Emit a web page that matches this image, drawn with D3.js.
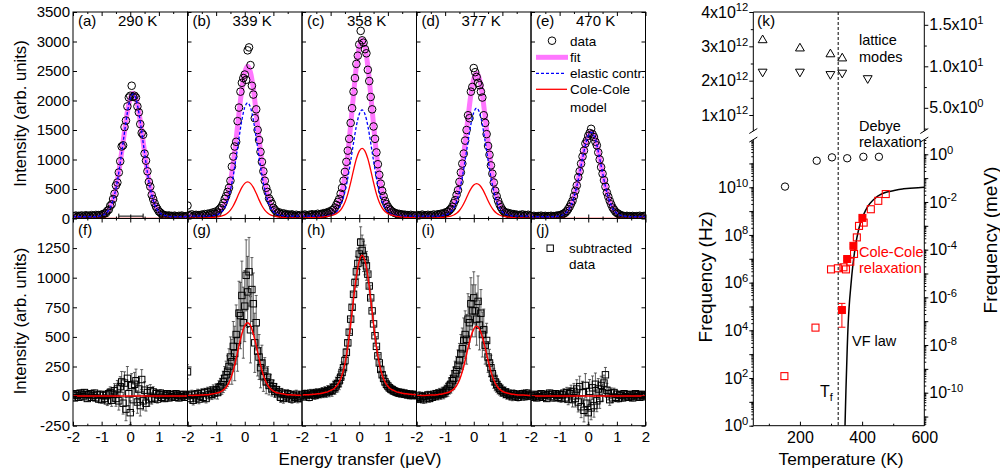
<!DOCTYPE html>
<html>
<head>
<meta charset="utf-8">
<script src="https://cdn.jsdelivr.net/npm/d3@7/dist/d3.min.js"></script>
<style>
  body { margin: 0; background: #fff; }
  svg { font-family: "Liberation Sans", Arial, Helvetica, sans-serif; }
</style>
</head>
<body>
<svg id="chart" width="1000" height="474"></svg>
<script>
// ---------- values ----------
const energyGrid = [-2, -1.9, -1.8, -1.7, -1.6, -1.5, -1.4, -1.3, -1.2, -1.1, -1, -0.9, -0.8, -0.7, -0.6, -0.5, -0.4, -0.3, -0.2, -0.1, 0,
  0.1, 0.2, 0.3, 0.4, 0.5, 0.6, 0.7, 0.8, 0.9, 1, 1.1, 1.2, 1.3, 1.4, 1.5, 1.6, 1.7, 1.8, 1.9, 2];
const energyData = [-2, -1.95, -1.9, -1.85, -1.8, -1.75, -1.7, -1.65, -1.6, -1.55, -1.5, -1.45, -1.4, -1.35, -1.3, -1.25, -1.2, -1.15, -1.1, -1.05,
  -1, -0.95, -0.9, -0.85, -0.8, -0.75, -0.7, -0.65, -0.6, -0.55, -0.5, -0.45, -0.4, -0.35, -0.3, -0.25, -0.2, -0.15, -0.1, -0.05,
  0, 0.05, 0.1, 0.15, 0.2, 0.25, 0.3, 0.35, 0.4, 0.45, 0.5, 0.55, 0.6, 0.65, 0.7, 0.75, 0.8, 0.85, 0.9, 0.95,
  1, 1.05, 1.1, 1.15, 1.2, 1.25, 1.3, 1.35, 1.4, 1.45, 1.5, 1.55, 1.6, 1.65, 1.7, 1.75, 1.8, 1.85, 1.9, 1.95, 2];

const topLetters = ['(a)', '(b)', '(c)', '(d)', '(e)'];
const temperatures = ['290 K', '339 K', '358 K', '377 K', '470 K'];
const bottomLetters = ['(f)', '(g)', '(h)', '(i)', '(j)'];

// measured spectra (top row)
const dataA = [42, 35, 50, 28, 45, 38, 52, 30, 41, 55, 36, 48, 33, 57, 44, 39, 60, 47, 58, 49,
  66, 71, 85, 92, 130, 150, 215, 240, 330, 420, 560, 610, 780, 970, 1220, 1240, 1550, 1660, 1900, 2050,
  2080, 2250, 2060, 2080, 2050, 1900, 1800, 1600, 1450, 1420, 1100, 980, 800, 620, 540, 400, 330, 260, 200, 160,
  120, 100, 78, 62, 55, 48, 40, 52, 35, 44, 30, 48, 38, 29, 45, 33, 50, 36, 27, 41, 35];
const dataB = [220, 60, 45, 70, 38, 55, 62, 40, 58, 47, 66, 52, 75, 44, 80, 63, 90, 72, 105, 85,
  120, 98, 150, 175, 210, 260, 330, 380, 450, 520, 640, 880, 1050, 1220, 1300, 1650, 1880, 2150, 2300, 2380,
  2440, 2350, 2850, 2900, 2600, 2250, 2100, 1700, 1850, 1500, 1330, 1130, 960, 800, 640, 520, 450, 340, 300, 250,
  180, 150, 120, 95, 105, 80, 72, 88, 60, 75, 52, 66, 48, 70, 55, 42, 63, 50, 45, 58, 40];
const dataC = [60, 45, 68, 52, 40, 63, 55, 72, 48, 66, 58, 80, 62, 75, 70, 90, 78, 100, 95, 118,
  110, 140, 150, 185, 230, 280, 330, 420, 520, 640, 790, 960, 1150, 1350, 1620, 1870, 2150, 2380, 2620, 2760,
  2950, 3180, 3020, 2980, 2870, 2800, 2520, 2330, 2060, 1850, 1560, 1350, 1120, 920, 740, 590, 470, 380, 300, 245,
  200, 165, 140, 118, 104, 92, 86, 70, 78, 62, 70, 55, 64, 50, 58, 45, 62, 48, 55, 42, 50];
const dataD = [45, 58, 40, 52, 66, 43, 55, 48, 62, 40, 57, 50, 68, 46, 60, 72, 55, 80, 70, 92,
  85, 110, 118, 140, 165, 200, 260, 310, 400, 480, 620, 780, 930, 1100, 1320, 1500, 1750, 1700, 2150, 2230,
  2550, 2480, 2400, 2300, 2260, 2150, 2050, 1750, 1620, 1430, 1230, 1080, 900, 760, 610, 470, 380, 300, 240, 190,
  150, 120, 105, 88, 95, 70, 82, 60, 74, 55, 66, 48, 60, 52, 70, 45, 58, 50, 63, 44, 55];
const dataE = [40, 30, 45, 36, 28, 42, 33, 48, 31, 39, 44, 27, 40, 35, 46, 32, 41, 38, 50, 43,
  55, 60, 72, 85, 100, 125, 160, 200, 250, 300, 380, 470, 560, 700, 800, 930, 1050, 1150, 1270, 1320,
  1400, 1450, 1520, 1430, 1380, 1300, 1240, 1120, 1000, 870, 760, 650, 540, 440, 370, 300, 240, 185, 150, 115,
  95, 80, 65, 50, 48, 42, 37, 45, 33, 40, 30, 43, 35, 28, 41, 34, 46, 30, 38, 44, 36];

// fits (on energyGrid)
const fitA = [35, 35, 35, 35, 35, 35, 35, 35, 36, 45, 56, 78, 120, 195, 322, 520, 792, 1125, 1478, 1810, 2040,
  2122, 2040, 1810, 1478, 1125, 792, 520, 322, 195, 120, 78, 56, 45, 36, 35, 35, 35, 35, 35, 35];
const fitB = [45, 46, 46, 47, 48, 49, 51, 52, 56, 69, 84, 109, 160, 246, 392, 625, 948, 1354, 1793, 2199, 2478,
  2580, 2478, 2199, 1793, 1354, 948, 625, 392, 246, 160, 109, 84, 69, 56, 52, 51, 49, 48, 47, 46];
const fitC = [50, 51, 52, 53, 55, 58, 60, 64, 70, 85, 106, 136, 195, 294, 462, 728, 1105, 1583, 2103, 2582, 2910,
  3030, 2910, 2582, 2103, 1583, 1105, 728, 462, 294, 195, 136, 106, 85, 70, 64, 60, 58, 55, 53, 52];
const fitD = [45, 45, 46, 46, 48, 49, 50, 52, 55, 67, 82, 107, 154, 236, 376, 597, 906, 1293, 1710, 2098, 2363,
  2460, 2363, 2098, 1710, 1293, 906, 597, 376, 236, 154, 107, 82, 67, 55, 52, 50, 49, 48, 46, 46];
const fitE = [35, 35, 35, 35, 35, 35, 35, 35, 35, 42, 49, 64, 92, 142, 228, 364, 550, 779, 1022, 1251, 1408,
  1465, 1408, 1251, 1022, 779, 550, 364, 228, 142, 92, 64, 49, 42, 35, 35, 35, 35, 35, 35, 35];

const elasticA = [30, 30, 30, 30, 30, 30, 30, 30, 30, 40, 51, 72, 113, 186, 311, 508, 779, 1112, 1465, 1798, 2027,
  2110, 2027, 1798, 1465, 1112, 779, 508, 311, 186, 113, 72, 51, 40, 30, 30, 30, 30, 30, 30, 30];
const elasticB = [40, 40, 40, 40, 40, 40, 40, 40, 40, 50, 59, 78, 117, 184, 299, 482, 731, 1038, 1365, 1672, 1883,
  1960, 1883, 1672, 1365, 1038, 731, 482, 299, 184, 117, 78, 59, 50, 40, 40, 40, 40, 40, 40, 40];
const elasticC = [40, 40, 40, 40, 40, 40, 40, 40, 40, 49, 58, 76, 112, 175, 283, 454, 688, 976, 1282, 1570, 1768,
  1840, 1768, 1570, 1282, 976, 688, 454, 283, 175, 112, 76, 58, 49, 40, 40, 40, 40, 40, 40, 40];
const elasticD = [40, 40, 40, 40, 40, 40, 40, 40, 40, 49, 58, 77, 113, 177, 287, 461, 699, 992, 1303, 1596, 1797,
  1870, 1797, 1596, 1303, 992, 699, 461, 287, 177, 113, 77, 58, 49, 40, 40, 40, 40, 40, 40, 40];
const elasticE = [30, 30, 30, 30, 30, 30, 30, 30, 30, 37, 44, 59, 87, 137, 223, 359, 545, 774, 1017, 1246, 1403,
  1460, 1403, 1246, 1017, 774, 545, 359, 223, 137, 87, 59, 44, 37, 30, 30, 30, 30, 30, 30, 30];

const coleA = [0, 0, 0, 0, 0, 0, 0, 0, 0, 0, 0, 0, 0, 0, 0, 0, 0, 0, 0, 0, 0,
  0, 0, 0, 0, 0, 0, 0, 0, 0, 0, 0, 0, 0, 0, 0, 0, 0, 0, 0, 0];
const coleB = [5, 6, 6, 7, 8, 9, 11, 12, 16, 19, 25, 31, 43, 62, 93, 143, 217, 316, 428, 527, 595,
  620, 595, 527, 428, 316, 217, 143, 93, 62, 43, 31, 25, 19, 16, 12, 11, 9, 8, 7, 6];
const coleC = [10, 11, 12, 13, 15, 18, 20, 24, 30, 36, 48, 60, 83, 119, 179, 274, 417, 607, 821, 1012, 1142,
  1190, 1142, 1012, 821, 607, 417, 274, 179, 119, 83, 60, 48, 36, 30, 24, 20, 18, 15, 13, 12];
const coleD = [5, 5, 6, 6, 8, 9, 10, 12, 15, 18, 24, 30, 41, 59, 89, 136, 207, 301, 407, 502, 566,
  590, 566, 502, 407, 301, 207, 136, 89, 59, 41, 30, 24, 18, 15, 12, 10, 9, 8, 6, 6];
const coleE = [0, 0, 0, 0, 0, 0, 0, 0, 0, 0, 0, 0, 0, 0, 0, 0, 0, 0, 0, 0, 0,
  0, 0, 0, 0, 0, 0, 0, 0, 0, 0, 0, 0, 0, 0, 0, 0, 0, 0, 0, 0];

// resolution bar drawn in panel (a)
const resolutionBar = [-0.4, 0.45];
const resolutionLevel = 40;

// subtracted data (bottom row) and their error bars
const subF = [10, -15, 20, 5, -10, 25, 15, -5, 30, 10, -20, 15, 20, -10, 5, 25, -15, 10, -25, 15,
  -30, 5, -20, 10, -40, 20, 30, -35, 15, 45, -20, 60, -40, 80, 120, -60, 110, -110, 150, 20,
  -140, 90, -30, 100, 130, -50, 60, -80, 140, -40, 50, -60, 30, -30, 45, -20, 35, -15, 20, -25,
  10, 25, -10, 15, -20, 5, 20, -15, 10, -5, 15, -10, 20, 5, -15, 10, -5, 15, -10, 5, 10];
const subG = [205, 5, -20, 15, -35, 10, -15, 20, -25, 0, 25, -10, 30, -20, 35, 10, 40, 15, 50, 25,
  55, 30, 70, 80, 95, 120, 150, 180, 210, 250, 330, 290, 420, 360, 520, 470, 700, 680, 850, 620,
  760, 1020, 880, 1050, 560, 900, 780, 450, 620, 380, 330, 240, 280, 170, 210, 120, 160, 90, 110, 60,
  80, 40, 55, 20, 35, -10, 25, -20, 15, -5, 20, -15, 10, -25, 5, -10, 15, -20, 0, -15, 10];
const subH = [10, -5, 20, 5, 15, -10, 25, 10, 20, 5, 30, 15, 25, 20, 35, 25, 40, 30, 45, 40,
  55, 50, 70, 75, 95, 105, 130, 160, 200, 240, 300, 370, 450, 540, 650, 750, 860, 960, 1050, 1120,
  1200, 1300, 1230, 1180, 1150, 1100, 1030, 930, 830, 720, 610, 510, 420, 340, 280, 225, 180, 150, 120, 100,
  85, 70, 60, 55, 45, 40, 35, 30, 25, 30, 20, 25, 15, 20, 10, 15, 5, 15, 10, 5, 10];
const subI = [-10, -25, 5, -20, -5, -30, 0, -15, 10, -20, 5, -10, 15, 0, 20, 5, 25, 15, 30, 25,
  40, 50, 60, 85, 100, 130, 150, 190, 220, 260, 300, 360, 400, 470, 520, 480, 650, 620, 780, 720,
  830, 720, 650, 800, 600, 700, 520, 560, 430, 470, 330, 280, 240, 190, 150, 120, 100, 80, 65, 50,
  45, 30, 35, 15, 25, 5, 15, -5, 20, 0, 10, -10, 15, 5, 20, -5, 10, 25, 0, 15, 5];
const subJ = [5, -10, 15, 0, -15, 10, -5, 20, -10, 5, 15, -20, 10, 25, -5, 15, -15, 20, 5, -10,
  15, -20, 10, 25, -15, 30, -25, 20, 35, -30, 40, -20, 60, -50, 80, -90, 30, -120, 90, -60,
  -140, 40, -100, 70, -80, 100, -40, 60, -20, 90, 30, 110, 180, 50, 20, -30, 25, -15, 30, -10,
  15, -20, 10, 5, -15, 20, -5, 10, -10, 15, 0, -15, 10, 20, -5, 10, -10, 15, 5, -5, 10];

const errF = [25, 24, 26, 25, 25, 27, 24, 25, 26, 25, 25, 26, 24, 25, 27, 26, 25, 27, 28, 28,
  30, 32, 34, 36, 40, 44, 48, 52, 56, 60, 66, 72, 78, 84, 88, 92, 95, 98, 100, 100,
  100, 100, 100, 100, 98, 95, 92, 88, 84, 78, 72, 66, 60, 56, 52, 48, 44, 40, 36, 34, 32, 30,
  28, 27, 27, 26, 26, 25, 25, 26, 25, 24, 25, 25, 26, 25, 24, 25, 25, 24, 25];
const errG = [60, 35, 38, 35, 40, 36, 35, 38, 40, 35, 37, 40, 36, 38, 40, 42, 40, 44, 45, 48,
  50, 55, 60, 70, 80, 90, 100, 115, 130, 150, 170, 190, 210, 230, 250, 260, 270, 280, 290, 300,
  300, 300, 300, 290, 280, 270, 260, 250, 230, 210, 190, 170, 150, 130, 115, 100, 90, 80, 70, 60, 55, 50,
  48, 45, 44, 42, 40, 40, 38, 38, 36, 36, 35, 35, 36, 35, 35, 37, 35, 35, 36];
const errH = [30, 30, 31, 30, 31, 30, 32, 31, 32, 33, 33, 34, 35, 36, 37, 38, 40, 42, 44, 46,
  48, 52, 56, 60, 65, 70, 76, 82, 88, 94, 100, 106, 112, 118, 122, 126, 128, 130, 130, 130,
  130, 130, 130, 128, 126, 122, 118, 112, 106, 100, 94, 88, 82, 76, 70, 65, 60, 56, 52, 48, 45, 42,
  40, 38, 37, 36, 35, 34, 33, 33, 32, 32, 31, 31, 31, 30, 30, 30, 30, 30, 30];
const errI = [30, 30, 31, 30, 32, 31, 30, 32, 31, 33, 32, 34, 33, 35, 36, 38, 40, 42, 45, 48,
  52, 56, 62, 68, 75, 85, 95, 105, 115, 130, 145, 160, 175, 190, 200, 210, 215, 220, 220, 220,
  220, 220, 220, 215, 210, 200, 190, 175, 160, 145, 130, 115, 105, 95, 85, 75, 68, 62, 56, 52, 48, 45,
  42, 40, 38, 36, 35, 34, 33, 32, 32, 31, 31, 30, 30, 31, 30, 30, 30, 30, 30];
const errJ = [25, 25, 24, 26, 25, 25, 26, 24, 25, 25, 26, 25, 24, 26, 25, 26, 27, 27, 28, 29,
  30, 32, 34, 37, 40, 44, 48, 52, 57, 62, 67, 72, 78, 84, 88, 92, 95, 98, 100, 100,
  100, 100, 100, 100, 98, 95, 92, 88, 84, 78, 72, 67, 62, 57, 52, 48, 44, 40, 37, 34, 32, 30,
  29, 28, 27, 27, 26, 25, 25, 24, 26, 25, 25, 24, 25, 26, 25, 25, 24, 25, 25];

// panel (k): frequencies (Hz) versus temperature (K)
const latticeUpT = [80, 200, 298, 336];
const latticeUpF = [3.18e12, 2.94e12, 2.77e12, 2.65e12];
const latticeDownT = [80, 200, 298, 336, 418];
const latticeDownF = [2.26e12, 2.26e12, 2.19e12, 2.23e12, 2.07e12];
const debyeT = [152, 254, 303, 352, 404, 454];
const debyeF = [1.07e10, 1.3e11, 1.8e11, 1.65e11, 1.9e11, 1.9e11];
const coleOpenT = [150, 250, 300, 322, 340, 348, 362, 374, 383, 390, 405, 428, 452, 476];
const coleOpenF = [1.2e2, 1.3e4, 3.6e6, 4.0e6, 4.4e6, 3.6e6, 7.6e6, 1.6e7, 7.9e7, 2.4e8, 3.3e8, 1.2e9, 2.7e9, 5.2e9];
const coleFilledT = [335, 352, 372, 401];
const coleFilledF = [7.1e4, 9.8e6, 3.5e7, 5.2e8];
const coleFilledLo = [1.35e4, 8.5e6, 3.1e7, 4.6e8];
const coleFilledHi = [1.35e5, 1.1e7, 4.0e7, 5.9e8];
const vfT = [345, 348, 352, 356, 360, 364, 370, 377, 385, 398, 410, 425, 440, 457, 480, 500, 530, 554, 580, 600];
const vfF = [1, 3.2e1, 1.6e3, 3.2e4, 2e5, 7.9e5, 5e6, 2.5e7, 1e8, 4.3e8, 1e9, 2.1e9, 3.3e9, 4.8e9, 6.3e9, 7.2e9, 8.5e9, 9.1e9, 9.5e9, 1e10];
const freezingT = 323;
const HZ_PER_MEV = 2.418e11;

// ---------- drawing ----------
const FONT = '"Liberation Sans", Arial, Helvetica, sans-serif';
const svg = d3.select('#chart');
const defs = svg.append('defs');

const PANEL_LEFT = 73, PANEL_W = 114.5;
const Y_TOP = 12, Y_MID = 218.5, Y_BOT = 425.7;
const FIT_COLOR = '#ff77ff', ELASTIC_COLOR = '#0000ff', COLE_COLOR = '#ff0000';

const yTop = d3.scaleLinear([0, 3500], [Y_MID, Y_TOP]);
const yBot = d3.scaleLinear([-250, 1500], [Y_BOT, Y_MID]);

const topSeries = [
  {data: dataA, fit: fitA, elastic: elasticA, cole: coleA},
  {data: dataB, fit: fitB, elastic: elasticB, cole: coleB},
  {data: dataC, fit: fitC, elastic: elasticC, cole: coleC},
  {data: dataD, fit: fitD, elastic: elasticD, cole: coleD},
  {data: dataE, fit: fitE, elastic: elasticE, cole: coleE}
];
const bottomSeries = [
  {data: subF, err: errF, cole: coleA},
  {data: subG, err: errG, cole: coleB},
  {data: subH, err: errH, cole: coleC},
  {data: subI, err: errI, cole: coleD},
  {data: subJ, err: errJ, cole: coleE}
];

function tidyAxis(g, size) {
  g.attr('font-family', FONT).attr('font-size', size);
  g.select('.domain').remove();
  g.selectAll('.tick text').attr('fill', '#000');
}

function clip(id, x0, y0, w, h) {
  defs.append('clipPath').attr('id', id)
    .append('rect').attr('x', x0).attr('y', y0).attr('width', w).attr('height', h);
  return `url(#${id})`;
}

topSeries.forEach((s, i) => {
  const x0 = PANEL_LEFT + i * PANEL_W, x1 = x0 + PANEL_W;
  const xs = d3.scaleLinear([-2, 2], [x0, x1]);
  const g = svg.append('g').attr('clip-path', clip(`top${i}`, x0, Y_TOP, PANEL_W, Y_MID - Y_TOP));
  const curve = d3.line().x((d, k) => xs(energyGrid[k])).y(d => yTop(d)).curve(d3.curveMonotoneX);

  g.append('path').attr('d', curve(s.fit)).attr('fill', 'none')
    .attr('stroke', FIT_COLOR).attr('stroke-width', 5).attr('stroke-linejoin', 'round');
  g.selectAll('circle.pt').data(s.data).join('circle').attr('class', 'pt')
    .attr('cx', (d, k) => xs(energyData[k])).attr('cy', d => yTop(d)).attr('r', 3.8)
    .attr('fill', 'none').attr('stroke', '#000').attr('stroke-width', 1);
  g.append('path').attr('d', curve(s.elastic)).attr('fill', 'none')
    .attr('stroke', ELASTIC_COLOR).attr('stroke-width', 1.3).attr('stroke-dasharray', '3,2');
  g.append('path').attr('d', curve(s.cole)).attr('fill', 'none')
    .attr('stroke', COLE_COLOR).attr('stroke-width', 1.3);

  if (i === 0) {
    const ry = yTop(resolutionLevel);
    g.append('line').attr('x1', xs(resolutionBar[0])).attr('x2', xs(resolutionBar[1]))
      .attr('y1', ry).attr('y2', ry).attr('stroke', '#000');
    resolutionBar.forEach(v => g.append('line').attr('x1', xs(v)).attr('x2', xs(v))
      .attr('y1', ry - 2.5).attr('y2', ry + 2.5).attr('stroke', '#000'));
  }

  svg.append('text').attr('x', x0 + 5).attr('y', 26).attr('font-size', 15).text(topLetters[i]);
  svg.append('text').attr('x', x0 + 45).attr('y', 26).attr('font-size', 15).text(temperatures[i]);
});

bottomSeries.forEach((s, i) => {
  const x0 = PANEL_LEFT + i * PANEL_W, x1 = x0 + PANEL_W;
  const xs = d3.scaleLinear([-2, 2], [x0, x1]);
  const g = svg.append('g').attr('clip-path', clip(`bot${i}`, x0, Y_MID, PANEL_W, Y_BOT - Y_MID));
  const curve = d3.line().x((d, k) => xs(energyGrid[k])).y(d => yBot(d)).curve(d3.curveMonotoneX);

  const eb = g.append('g').attr('stroke', '#3a3a3a').attr('stroke-width', 0.8);
  s.data.forEach((v, k) => {
    const cx = xs(energyData[k]), lo = yBot(v - s.err[k]), hi = yBot(v + s.err[k]);
    eb.append('line').attr('x1', cx).attr('x2', cx).attr('y1', lo).attr('y2', hi);
    eb.append('line').attr('x1', cx - 1.5).attr('x2', cx + 1.5).attr('y1', lo).attr('y2', lo);
    eb.append('line').attr('x1', cx - 1.5).attr('x2', cx + 1.5).attr('y1', hi).attr('y2', hi);
  });
  g.selectAll('rect.pt').data(s.data).join('rect').attr('class', 'pt')
    .attr('x', (d, k) => xs(energyData[k]) - 3.2).attr('y', d => yBot(d) - 3.2)
    .attr('width', 6.4).attr('height', 6.4)
    .attr('fill', 'none').attr('stroke', '#000').attr('stroke-width', 1);
  g.append('path').attr('d', curve(s.cole)).attr('fill', 'none')
    .attr('stroke', COLE_COLOR).attr('stroke-width', 1.5);

  svg.append('text').attr('x', x0 + 5).attr('y', 235).attr('font-size', 15).text(bottomLetters[i]);
});

// frames and ticks of the ten spectra panels
for (let i = 0; i < 5; i++) {
  const x0 = PANEL_LEFT + i * PANEL_W, x1 = x0 + PANEL_W;
  const xs = d3.scaleLinear([-2, 2], [x0, x1]);
  [[Y_TOP, Y_MID], [Y_MID, Y_BOT]].forEach(([a, b]) => {
    svg.append('rect').attr('x', x0).attr('y', a).attr('width', PANEL_W).attr('height', b - a)
      .attr('fill', 'none').attr('stroke', '#000').attr('stroke-width', 1);
  });
  const majors = [-2, -1, 0, 1, 2], minors = [-1.5, -0.5, 0.5, 1.5];
  [Y_TOP, Y_MID].forEach(yy => {
    svg.append('g').attr('transform', `translate(0,${yy})`)
      .call(d3.axisTop(xs).tickValues(majors).tickSize(-4).tickFormat('')).call(tidyAxis, 15);
    svg.append('g').attr('transform', `translate(0,${yy})`)
      .call(d3.axisTop(xs).tickValues(minors).tickSize(-2).tickFormat('')).call(tidyAxis, 15);
  });
  [Y_MID, Y_BOT].forEach(yy => {
    svg.append('g').attr('transform', `translate(0,${yy})`)
      .call(d3.axisBottom(xs).tickValues(minors).tickSize(-2).tickFormat('')).call(tidyAxis, 15);
  });
  svg.append('g').attr('transform', `translate(0,${Y_MID})`)
    .call(d3.axisBottom(xs).tickValues(majors).tickSize(-4).tickFormat('')).call(tidyAxis, 15);
  svg.append('g').attr('transform', `translate(0,${Y_BOT})`)
    .call(d3.axisBottom(xs).tickValues(majors).tickSize(-4).tickPadding(6)
      .tickFormat(d => (d === 2 && i < 4) ? '' : String(d)))
    .call(tidyAxis, 15);

  const topTicks = d3.range(0, 3501, 500), botTicks = d3.range(-250, 1251, 250);
  svg.append('g').attr('transform', `translate(${x0},0)`)
    .call(d3.axisLeft(yTop).tickValues(topTicks).tickSize(-4).tickPadding(3)
      .tickFormat(d => i === 0 ? String(d) : ''))
    .call(tidyAxis, 15);
  svg.append('g').attr('transform', `translate(${x0},0)`)
    .call(d3.axisLeft(yBot).tickValues(botTicks).tickSize(-4).tickPadding(3)
      .tickFormat(d => i === 0 ? String(d) : ''))
    .call(tidyAxis, 15);
  if (i === 4) {
    svg.append('g').attr('transform', `translate(${x1},0)`)
      .call(d3.axisRight(yTop).tickValues(topTicks).tickSize(-4).tickFormat('')).call(tidyAxis, 15);
    svg.append('g').attr('transform', `translate(${x1},0)`)
      .call(d3.axisRight(yBot).tickValues(botTicks).tickSize(-4).tickFormat('')).call(tidyAxis, 15);
  }
}

// legends
const lx = PANEL_LEFT + 4 * PANEL_W;
const leg = svg.append('g').attr('font-size', 13.5);
leg.append('circle').attr('cx', lx + 21).attr('cy', 40.7).attr('r', 3.8)
  .attr('fill', 'none').attr('stroke', '#000');
leg.append('text').attr('x', lx + 39).attr('y', 45.5).text('data');
leg.append('line').attr('x1', lx + 5).attr('x2', lx + 37).attr('y1', 57.3).attr('y2', 57.3)
  .attr('stroke', FIT_COLOR).attr('stroke-width', 5);
leg.append('text').attr('x', lx + 39).attr('y', 62).text('fit');
leg.append('line').attr('x1', lx + 5).attr('x2', lx + 33).attr('y1', 73.3).attr('y2', 73.3)
  .attr('stroke', ELASTIC_COLOR).attr('stroke-width', 1.3).attr('stroke-dasharray', '3,2');
leg.append('text').attr('x', lx + 39).attr('y', 78).text('elastic contr.');
leg.append('line').attr('x1', lx + 5).attr('x2', lx + 36).attr('y1', 89.3).attr('y2', 89.3)
  .attr('stroke', COLE_COLOR).attr('stroke-width', 1.3);
leg.append('text').attr('x', lx + 39).attr('y', 94).text('Cole-Cole');
leg.append('text').attr('x', lx + 39).attr('y', 111.5).text('model');
leg.append('rect').attr('x', lx + 16).attr('y', 245).attr('width', 6.4).attr('height', 6.4)
  .attr('fill', 'none').attr('stroke', '#000');
leg.append('text').attr('x', lx + 38).attr('y', 253).text('subtracted');
leg.append('text').attr('x', lx + 38).attr('y', 269).text('data');

// axis titles of the spectra
svg.append('text').attr('transform', 'translate(26,113.5) rotate(-90)').attr('text-anchor', 'middle')
  .attr('font-size', 16.7).text('Intensity (arb. units)');
svg.append('text').attr('transform', 'translate(26,321) rotate(-90)').attr('text-anchor', 'middle')
  .attr('font-size', 16.7).text('Intensity (arb. units)');
svg.append('text').attr('x', 360).attr('y', 465).attr('text-anchor', 'middle')
  .attr('font-size', 17).text('Energy transfer (μeV)');

// ---------- panel (k) ----------
const KX0 = 753.3, KX1 = 924.3, BREAK_TOP = 131, BREAK_BOT = 139.6;
const KFS = 16;
const tX = d3.scaleLinear([50, 600], [KX0, KX1]);
const hzLin = d3.scaleLinear([1e12, 4e12], [115, Y_TOP]);
const hzLog = d3.scaleLog([1, 1e12], [Y_BOT, BREAK_BOT]);
const mevLin = d3.scaleLinear([1e12 / HZ_PER_MEV, 4e12 / HZ_PER_MEV], [115, Y_TOP]);
const mevLog = d3.scaleLog([1 / HZ_PER_MEV, 1e12 / HZ_PER_MEV], [Y_BOT, BREAK_BOT]);

function supText(sel, base, exp) {
  sel.text(null);
  sel.append('tspan').text(base);
  sel.append('tspan').attr('font-size', '0.7em').attr('dy', '-0.55em').text(exp);
}

const k = svg.append('g');
// frame with axis break
[[KX0, Y_TOP, KX0, BREAK_TOP], [KX0, BREAK_BOT, KX0, Y_BOT], [KX1, Y_TOP, KX1, BREAK_TOP], [KX1, BREAK_BOT, KX1, Y_BOT],
  [KX0, Y_TOP, KX1, Y_TOP], [KX0, Y_BOT, KX1, Y_BOT]].forEach(([a, b, c, d]) => {
  k.append('line').attr('x1', a).attr('y1', b).attr('x2', c).attr('y2', d).attr('stroke', '#000');
});
[KX0, KX1].forEach(xx => {
  [BREAK_TOP, BREAK_BOT].forEach(yy => {
    k.append('line').attr('x1', xx - 4).attr('y1', yy + 2.5).attr('x2', xx + 4).attr('y2', yy - 2.5)
      .attr('stroke', '#000');
  });
});

// left axis, linear part
k.append('g').attr('transform', `translate(${KX0},0)`)
  .call(d3.axisLeft(hzLin).tickValues([1e12, 2e12, 3e12, 4e12]).tickSize(4).tickPadding(1))
  .call(tidyAxis, KFS)
  .call(g => g.selectAll('.tick text').each(function (d) { supText(d3.select(this), `${d / 1e12}x10`, '12'); }));
k.append('g').attr('transform', `translate(${KX0},0)`)
  .call(d3.axisLeft(hzLin).tickValues([1.5e12, 2.5e12, 3.5e12]).tickSize(2.5).tickFormat(''))
  .call(tidyAxis, KFS);
// left axis, log part
const hzLabeled = [1e0, 1e2, 1e4, 1e6, 1e8, 1e10];
const hzDecades = [1e1, 1e3, 1e5, 1e7, 1e9, 1e11];
k.append('g').attr('transform', `translate(${KX0},0)`)
  .call(d3.axisLeft(hzLog).tickValues(hzLabeled).tickSize(4).tickPadding(1))
  .call(tidyAxis, KFS)
  .call(g => g.selectAll('.tick text').each(function (d) {
    supText(d3.select(this), '10', String(Math.round(Math.log10(d))));
  }));
k.append('g').attr('transform', `translate(${KX0},0)`)
  .call(d3.axisLeft(hzLog).tickValues(hzDecades).tickSize(4).tickFormat('')).call(tidyAxis, KFS);
k.append('g').attr('transform', `translate(${KX0},0)`)
  .call(d3.axisLeft(hzLog).tickValues(hzLog.ticks(200).filter(v => v < 1e12)).tickSize(2).tickFormat(''))
  .call(tidyAxis, KFS);

// right axis in meV
k.append('g').attr('transform', `translate(${KX1},0)`)
  .call(d3.axisRight(mevLin).tickValues([5, 10, 15]).tickSize(4).tickPadding(1))
  .call(tidyAxis, KFS)
  .call(g => g.selectAll('.tick text').each(function (d) {
    const e = Math.floor(Math.log10(d));
    supText(d3.select(this), `${(d / Math.pow(10, e)).toFixed(1)}x10`, String(e));
  }));
k.append('g').attr('transform', `translate(${KX1},0)`)
  .call(d3.axisRight(mevLin).tickValues([2.5, 7.5, 12.5]).tickSize(2.5).tickFormat(''))
  .call(tidyAxis, KFS);
const mevLabeled = [1e-10, 1e-8, 1e-6, 1e-4, 1e-2, 1e0];
const mevDecades = [1e-11, 1e-9, 1e-7, 1e-5, 1e-3, 1e-1];
k.append('g').attr('transform', `translate(${KX1},0)`)
  .call(d3.axisRight(mevLog).tickValues(mevLabeled).tickSize(4).tickPadding(1))
  .call(tidyAxis, KFS)
  .call(g => g.selectAll('.tick text').each(function (d) {
    supText(d3.select(this), '10', String(Math.round(Math.log10(d))));
  }));
k.append('g').attr('transform', `translate(${KX1},0)`)
  .call(d3.axisRight(mevLog).tickValues(mevDecades).tickSize(4).tickFormat('')).call(tidyAxis, KFS);
k.append('g').attr('transform', `translate(${KX1},0)`)
  .call(d3.axisRight(mevLog).tickValues(mevLog.ticks(200).filter(v => v < 1e12 / HZ_PER_MEV)).tickSize(2).tickFormat(''))
  .call(tidyAxis, KFS);

// temperature axis
k.append('g').attr('transform', `translate(0,${Y_BOT})`)
  .call(d3.axisBottom(tX).tickValues([200, 400, 600]).tickSize(-4).tickPadding(6).tickFormat(d => String(d)))
  .call(tidyAxis, 16);
k.append('g').attr('transform', `translate(0,${Y_BOT})`)
  .call(d3.axisBottom(tX).tickValues([100, 300, 500]).tickSize(-2).tickFormat(''))
  .call(tidyAxis, 16);

// freezing temperature
k.append('line').attr('x1', tX(freezingT)).attr('x2', tX(freezingT)).attr('y1', Y_TOP).attr('y2', Y_BOT)
  .attr('stroke', '#000').attr('stroke-dasharray', '3,2');

// lattice modes
const tri = d3.symbol().type(d3.symbolTriangle).size(34);
latticeUpT.forEach((t, j) => {
  k.append('path').attr('d', tri()).attr('transform', `translate(${tX(t)},${hzLin(latticeUpF[j])})`)
    .attr('fill', 'none').attr('stroke', '#000');
});
latticeDownT.forEach((t, j) => {
  k.append('path').attr('d', tri()).attr('transform', `translate(${tX(t)},${hzLin(latticeDownF[j])}) rotate(180)`)
    .attr('fill', 'none').attr('stroke', '#000');
});
// Debye relaxation
debyeT.forEach((t, j) => {
  k.append('circle').attr('cx', tX(t)).attr('cy', hzLog(debyeF[j])).attr('r', 3.7)
    .attr('fill', 'none').attr('stroke', '#000');
});
// VF law
const vfLine = d3.line().x((d, j) => tX(vfT[j])).y(d => hzLog(d)).curve(d3.curveMonotoneY);
k.append('path').attr('d', vfLine(vfF)).attr('fill', 'none').attr('stroke', '#000').attr('stroke-width', 1.5);
// Cole-Cole relaxation
coleOpenT.forEach((t, j) => {
  k.append('rect').attr('x', tX(t) - 3.5).attr('y', hzLog(coleOpenF[j]) - 3.5).attr('width', 7).attr('height', 7)
    .attr('fill', 'none').attr('stroke', COLE_COLOR).attr('stroke-width', 1.1);
});
coleFilledT.forEach((t, j) => {
  const cx = tX(t), lo = hzLog(coleFilledLo[j]), hi = hzLog(coleFilledHi[j]);
  k.append('line').attr('x1', cx).attr('x2', cx).attr('y1', lo).attr('y2', hi).attr('stroke', COLE_COLOR);
  [lo, hi].forEach(yy => k.append('line').attr('x1', cx - 3.5).attr('x2', cx + 3.5).attr('y1', yy).attr('y2', yy)
    .attr('stroke', COLE_COLOR));
  k.append('rect').attr('x', cx - 3.5).attr('y', hzLog(coleFilledF[j]) - 3.5).attr('width', 7).attr('height', 7)
    .attr('fill', COLE_COLOR).attr('stroke', COLE_COLOR);
});

// labels of panel (k)
const kt = k.append('g').attr('font-size', 14.5);
kt.append('text').attr('x', 757).attr('y', 26).attr('font-size', 15.5).text('(k)');
kt.append('text').attr('x', 859).attr('y', 45).text('lattice');
kt.append('text').attr('x', 859).attr('y', 62).text('modes');
kt.append('text').attr('x', 859).attr('y', 131).text('Debye');
kt.append('text').attr('x', 859).attr('y', 147).text('relaxation');
kt.append('text').attr('x', 859).attr('y', 256.5).attr('fill', COLE_COLOR).text('Cole-Cole');
kt.append('text').attr('x', 859).attr('y', 273).attr('fill', COLE_COLOR).text('relaxation');
kt.append('text').attr('x', 852).attr('y', 346).text('VF law');
const tf = kt.append('text').attr('x', 820).attr('y', 397).attr('font-size', 16);
tf.append('tspan').text('T');
tf.append('tspan').attr('font-size', '0.68em').attr('dy', '0.4em').text('f');

svg.append('text').attr('transform', 'translate(712,277) rotate(-90)').attr('text-anchor', 'middle')
  .attr('font-size', 19).text('Frequency (Hz)');
svg.append('text').attr('transform', 'translate(997,240) rotate(-90)').attr('text-anchor', 'middle')
  .attr('font-size', 19).text('Frequency (meV)');
svg.append('text').attr('x', 841).attr('y', 465).attr('text-anchor', 'middle')
  .attr('font-size', 17.3).text('Temperature (K)');
</script>
</body>
</html>
